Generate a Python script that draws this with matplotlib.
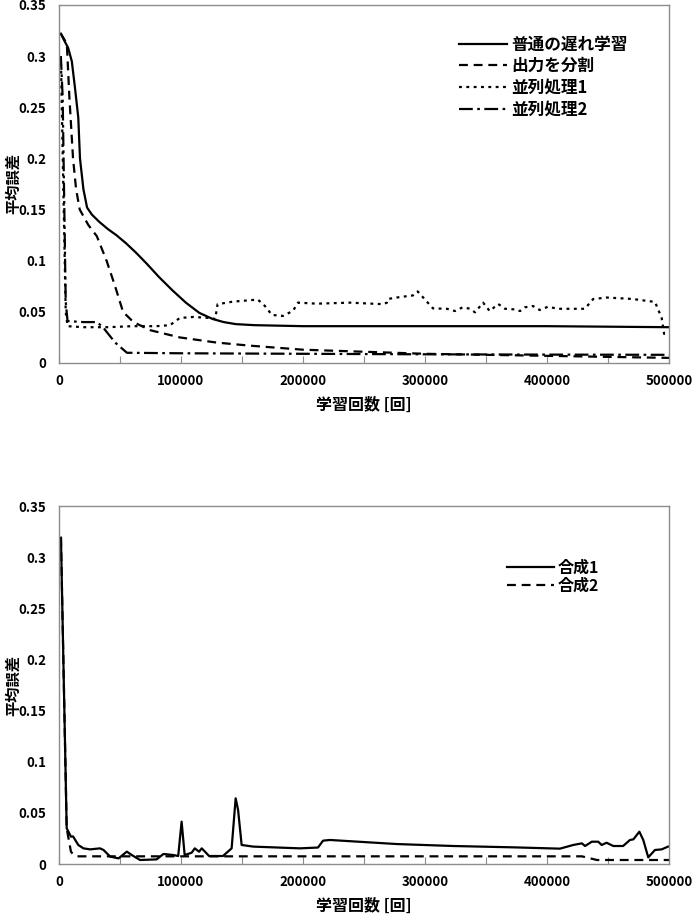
import numpy as np
import matplotlib
matplotlib.use('Agg')
import matplotlib.pyplot as plt

plt.rcParams['font.family'] = ['Noto Sans CJK JP', 'DejaVu Sans']

# top chart data
x_normal = [1500, 4000, 7500, 10500, 13000, 15800, 17200, 20000, 23000, 27000, 33000, 40000, 47000,
            55000, 63000, 72000, 82000, 93000, 104000, 115000, 126000, 135000, 145000, 160000,
            200000, 300000, 400000, 500000]
y_normal = [0.322, 0.316, 0.308, 0.295, 0.27, 0.24, 0.2, 0.17, 0.152, 0.145, 0.138, 0.131, 0.125,
            0.117, 0.108, 0.097, 0.084, 0.071, 0.059, 0.049, 0.043, 0.040, 0.038, 0.037,
            0.036, 0.036, 0.036, 0.035]

x_split = [1500, 5000, 6500, 8500, 11500, 14000, 17000, 24000, 31000, 39000, 46000, 52500, 61000,
           75000, 99000, 129000, 156000, 200000, 250000, 300000, 400000, 500000]
y_split = [0.322, 0.315, 0.31, 0.26, 0.2, 0.17, 0.15, 0.135, 0.124, 0.1, 0.075, 0.05, 0.04,
           0.032, 0.025, 0.02, 0.017, 0.013, 0.011, 0.009, 0.007, 0.005]

x_par1 = [1500, 5500, 7000, 20000, 40000, 60000, 80000, 91000, 99000, 110000, 124000, 128000,
          130000, 142600, 163000, 168800, 174500, 183600, 191800, 195900, 211500, 238500,
          265600, 268800, 269600, 279500, 290000, 294000, 306500, 318000, 324600, 331000,
          337000, 341000, 347600, 353000, 360000, 365600, 373800, 377900, 382000, 388500,
          394000, 400800, 409000, 431000, 437800, 449000, 470000, 488500, 494000, 496000, 500000]
y_par1 = [0.30, 0.05, 0.036, 0.035, 0.035, 0.036, 0.036, 0.037, 0.044, 0.045, 0.044, 0.043,
          0.0575, 0.06, 0.062, 0.0557, 0.047, 0.046, 0.051, 0.059, 0.058, 0.059,
          0.0575, 0.059, 0.0626, 0.0645, 0.066, 0.07, 0.0534, 0.053, 0.0508, 0.0545,
          0.053, 0.0495, 0.059, 0.0508, 0.0577, 0.053, 0.0524, 0.0508, 0.0545, 0.0557,
          0.0518, 0.055, 0.053, 0.053, 0.0625, 0.064, 0.0626, 0.0597, 0.044, 0.0285, 0.0277]

x_par2 = [1500, 3000, 5500, 7000, 20000, 31000, 36000, 46000, 55700, 100000, 200000, 300000,
          400000, 500000]
y_par2 = [0.30, 0.26, 0.06, 0.041, 0.040, 0.040, 0.035, 0.02, 0.01, 0.0095, 0.009, 0.0085,
          0.0082, 0.008]

# bottom chart data
x_comb1 = [1600, 6300, 9800, 11500, 15800, 20000, 25500, 33600, 36500, 42000, 48800, 55600,
           59600, 66400, 80000, 85600, 93600, 97700, 100500, 103000, 108700, 111300, 114800,
           117000, 120500, 123000, 134400, 141500, 144800, 146800, 149700, 159200, 197500,
           212300, 216400, 222000, 277000, 323000, 372000, 410600, 421500, 428600, 431200,
           436700, 442000, 444800, 448800, 454300, 462400, 468000, 470800, 475700, 478900,
           483000, 488500, 494000, 499200]
y_comb1 = [0.319, 0.0349, 0.0267, 0.027, 0.0186, 0.0153, 0.0143, 0.0153, 0.0137, 0.0072,
           0.0055, 0.0121, 0.0088, 0.0039, 0.0045, 0.0098, 0.0088, 0.0078, 0.0414, 0.0088,
           0.011, 0.0153, 0.012, 0.0153, 0.011, 0.0078, 0.0078, 0.0153, 0.0642, 0.0528,
           0.0186, 0.017, 0.0153, 0.0161, 0.0228, 0.0235, 0.0195, 0.0176, 0.0163, 0.015,
           0.0186, 0.0202, 0.0176, 0.0218, 0.0218, 0.0186, 0.0208, 0.0176, 0.0176, 0.0235,
           0.0241, 0.0316, 0.0235, 0.0065, 0.0137, 0.0143, 0.017]

x_comb2 = [1600, 6300, 9800, 11600, 15000, 100000, 200000, 300000, 428600, 441000, 500000]
y_comb2 = [0.319, 0.0349, 0.012, 0.0095, 0.0075, 0.0075, 0.0075, 0.0075, 0.0075, 0.0039, 0.0039]

xticks = [0, 100000, 200000, 300000, 400000, 500000]
yticks = [0, 0.05, 0.1, 0.15, 0.2, 0.25, 0.3, 0.35]

LW = 1.6
DASH = (0, (4, 2.6))
DOT = (0, (1.3, 2.0))
DASHDOT = (0, (6.2, 2.0, 1.2, 2.0))

fig = plt.figure(figsize=(6.92, 9.15), dpi=100)
ax1 = fig.add_axes([59/692, 1-363/915, 610/692, 358/915])
ax2 = fig.add_axes([59/692, 1-864/915, 610/692, 358/915])


def style_axes(ax):
    ax.set_xlim(0, 500000)
    ax.set_ylim(0, 0.35)
    ax.set_xticks(xticks)
    ax.set_xticklabels([str(t) for t in xticks])
    ax.set_xticks(np.arange(50000, 500000, 100000), minor=True)
    ax.set_yticks(yticks)
    ax.set_yticklabels(['0', '0.05', '0.1', '0.15', '0.2', '0.25', '0.3', '0.35'])
    ax.tick_params(axis='x', which='both', direction='in', length=5, width=0.8,
                   color='#8c8c8c', pad=8, labelsize=9.5)
    ax.tick_params(axis='y', length=0, pad=9, labelsize=9.5)
    for s in ax.spines.values():
        s.set_color('#8c8c8c')
        s.set_linewidth(1.0)
    for lab in ax.get_xticklabels() + ax.get_yticklabels():
        lab.set_fontweight('bold')
    ax.set_xlabel('学習回数 [回]', fontsize=11.5, fontweight='bold', labelpad=6)
    ax.set_ylabel('平均誤差', fontsize=11, fontweight='bold')
    ax.yaxis.set_label_coords(-0.062, 0.5)


ax1.plot(x_normal, y_normal, color='black', lw=LW, ls='-', label='普通の遅れ学習')
ax1.plot(x_split, y_split, color='black', lw=LW, ls=DASH, label='出力を分割')
ax1.plot(x_par1, y_par1, color='black', lw=LW, ls=DOT, label='並列処理1')
ax1.plot(x_par2, y_par2, color='black', lw=LW, ls=DASHDOT, label='並列処理2')
style_axes(ax1)
leg1 = ax1.legend(loc='upper left', bbox_to_anchor=(0.655, 0.915), frameon=False,
                  fontsize=12, handlelength=2.9, handletextpad=0.25, labelspacing=0.22,
                  borderpad=0, borderaxespad=0)
for t in leg1.get_texts():
    t.set_fontweight('bold')

ax2.plot(x_comb2, y_comb2, color='black', lw=LW, ls=DASH, label='合成2')
ax2.plot(x_comb1, y_comb1, color='black', lw=LW, ls='-', label='合成1')
style_axes(ax2)
h, l = ax2.get_legend_handles_labels()
leg2 = ax2.legend(h[::-1], l[::-1], loc='upper left', bbox_to_anchor=(0.735, 0.85),
                  frameon=False, fontsize=11.5, handlelength=2.9, handletextpad=0.25,
                  labelspacing=0.1, borderpad=0, borderaxespad=0)
for t in leg2.get_texts():
    t.set_fontweight('bold')

fig.savefig('out.png', dpi=100)
